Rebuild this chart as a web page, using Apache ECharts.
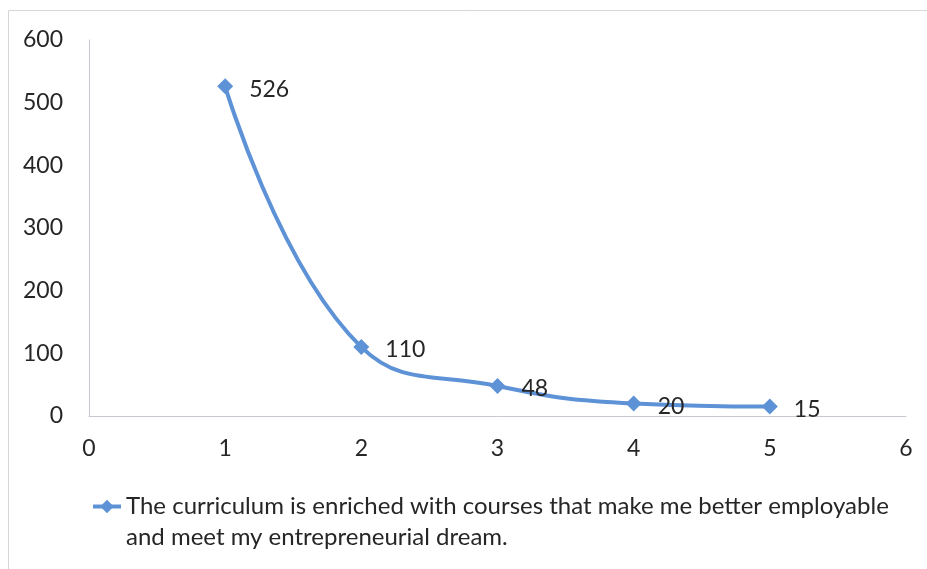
<!DOCTYPE html>
<html>
<head>
    <meta charset="utf-8">
    <title>Curriculum chart</title>
    <script src="https://cdn.jsdelivr.net/npm/echarts@6.0.0/dist/echarts.min.js"></script>
    <style>
        body { margin: 0; background: #fff; }
        #chart { width: 927px; height: 569px; }
    </style>
</head>
<body>
    <div id="chart"></div>
    <script>
        // values
        const xValues = [1, 2, 3, 4, 5];
        const yValues = [526, 110, 48, 20, 15];
        const seriesName = 'The curriculum is enriched with courses that make me better employable\nand meet my entrepreneurial dream.';

        const lineColor = '#5e92d6';
        const textColor = '#262626';
        const font = 'Lato, "Open Sans", sans-serif';

        const chart = echarts.init(document.getElementById('chart'));

        chart.setOption({
            backgroundColor: '#fff',
            animation: false,
            textStyle: { fontFamily: font },
            graphic: [{
                type: 'rect',
                shape: { x: 8.5, y: 10.5, width: 940, height: 580 },
                style: { fill: 'none', stroke: '#d6d6d6', lineWidth: 1 },
                silent: true
            }],
            grid: { left: 89, right: 21, top: 40, bottom: 153 },
            xAxis: {
                type: 'value',
                min: 0, max: 6, interval: 1,
                axisLine: { show: true, lineStyle: { color: '#c8c8d0', width: 1 } },
                axisTick: { show: false },
                splitLine: { show: false },
                axisLabel: { color: textColor, fontSize: 23, margin: 21, fontFamily: font }
            },
            yAxis: {
                type: 'value',
                min: 0, max: 600, interval: 100,
                axisLine: { show: true, lineStyle: { color: '#c8c8d0', width: 1 } },
                axisTick: { show: false },
                splitLine: { show: false },
                axisLabel: { color: textColor, fontSize: 23, margin: 26, fontFamily: font }
            },
            legend: {
                left: 86,
                top: 455,
                itemWidth: 28,
                itemHeight: 17,
                itemGap: 0,
                lineStyle: { width: 4 },
                // blank first line so the icon sits level with the first text line
                formatter: name => ' \n' + name,
                textStyle: {
                    color: textColor, fontSize: 24, lineHeight: 31, fontFamily: font
                },
                data: [seriesName]
            },
            series: [{
                name: seriesName,
                type: 'line',
                smooth: 0.45,
                data: xValues.map((x, i) => [x, yValues[i]]),
                symbol: 'diamond',
                symbolSize: 16,
                lineStyle: { color: lineColor, width: 4 },
                itemStyle: { color: lineColor },
                label: {
                    show: true,
                    position: 'right',
                    distance: 16,
                    color: textColor,
                    fontSize: 23,
                    fontFamily: font,
                    offset: [0, 3]
                }
            }]
        });
    </script>
</body>
</html>
